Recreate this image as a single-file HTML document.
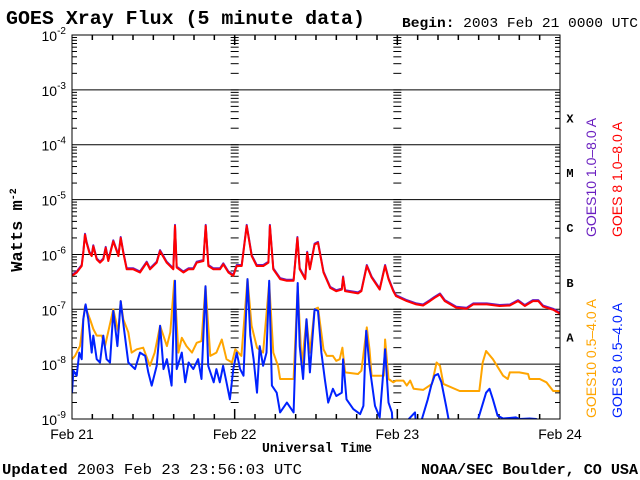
<!DOCTYPE html>
<html><head><meta charset="utf-8"><style>
html,body{margin:0;padding:0;background:#fff;}
svg{display:block;}
.s{font-family:"Liberation Sans",sans-serif;}
.r{font-family:"Liberation Mono",monospace;font-weight:bold;}
.m{font-family:"Liberation Mono",monospace;font-weight:normal;}
</style></head><body>
<svg id="chart" width="640" height="480" viewBox="0 0 640 480" xmlns="http://www.w3.org/2000/svg">
<text class="r" x="6" y="24" font-size="19.8" textLength="359" lengthAdjust="spacingAndGlyphs">GOES Xray Flux (5 minute data)</text>
<text class="r" x="402" y="27" font-size="14" textLength="236" lengthAdjust="spacingAndGlyphs">Begin:  <tspan class="m">2003 Feb 21 0000 UTC</tspan></text>
<text class="r" font-size="17" transform="translate(22,230) rotate(-90)" text-anchor="middle">Watts m<tspan font-size="10" dy="-6">-2</tspan></text>
<text class="r" x="262" y="452" font-size="14" textLength="110" lengthAdjust="spacingAndGlyphs">Universal Time</text>
<text class="r" x="2" y="474" font-size="15" textLength="300" lengthAdjust="spacingAndGlyphs">Updated <tspan class="m">2003 Feb 23 23:56:03 UTC</tspan></text>
<text class="r" x="421" y="474" font-size="15" textLength="217" lengthAdjust="spacingAndGlyphs">NOAA/SEC Boulder, CO USA</text>
<g id="grid"></g>
<g id="ticks"></g>
<g id="labels"></g>
<defs><clipPath id="pc"><rect x="72" y="35" width="488" height="384"/></clipPath></defs>
<g id="series" clip-path="url(#pc)"></g>
<rect x="72" y="35" width="488" height="384" fill="none" stroke="#000" stroke-width="1"/>
<g id="legend">
<text class="s" font-size="14" fill="#6a1fc0" transform="translate(596,237) rotate(-90)">GOES10 1.0–8.0 A</text>
<text class="s" font-size="14" fill="#ff0000" transform="translate(622,237) rotate(-90)">GOES 8 1.0–8.0 A</text>
<text class="s" font-size="14" fill="#ffa500" transform="translate(596,418) rotate(-90)">GOES10 0.5–4.0 A</text>
<text class="s" font-size="14" fill="#0022ff" transform="translate(622,418) rotate(-90)">GOES 8 0.5–4.0 A</text>
</g>
</svg>
<script>
const decades=[-2,-3,-4,-5,-6,-7,-8,-9];
const dayLabels=["Feb 21","Feb 22","Feb 23","Feb 24"];
const flareClasses=["X","M","C","B","A"];
const flareLevels=[-3.5,-4.5,-5.5,-6.5,-7.5];
const redT=[0,0.69,1.43,1.67,1.92,2.16,2.56,2.9,3.15,3.64,4.13,4.62,4.97,5.36,6.1,6.59,6.84,7.18,7.57,8.07,9.05,10.03,11.02,11.51,12.49,12.99,13.97,14.95,15.2,15.45,16.43,17.17,17.9,18.4,19.38,19.72,20.12,20.86,21.84,22.33,23.07,23.8,24.3,25.04,25.77,26.51,27.25,28.23,28.97,29.2,29.7,30.7,31.7,32.7,33.25,33.6,34.4,34.7,35.1,35.8,36.3,37.1,38.1,39.0,39.8,40.0,40.3,42.2,42.7,43.5,44.2,45.4,46.2,46.7,47.4,47.8,49.4,50.8,51.8,52.8,53.5,54.3,55.0,56.7,58.2,59.2,61.2,63.1,64.6,65.8,66.8,68.0,68.8,69.5,71.0,72];
const redV=[-6.39,-6.33,-6.21,-5.97,-5.64,-5.79,-5.97,-6.03,-5.85,-6.09,-6.15,-6.09,-5.88,-6.12,-5.76,-5.94,-6.03,-5.70,-5.97,-6.27,-6.27,-6.33,-6.15,-6.27,-6.15,-5.94,-6.15,-6.27,-5.48,-6.24,-6.33,-6.27,-6.27,-6.15,-6.12,-5.48,-6.21,-6.27,-6.27,-6.18,-6.33,-6.39,-6.21,-6.21,-5.48,-6.03,-6.21,-6.21,-6.15,-5.48,-6.27,-6.45,-6.48,-6.48,-5.70,-6.27,-6.45,-5.97,-6.27,-5.82,-5.79,-6.33,-6.61,-6.67,-6.64,-6.42,-6.67,-6.71,-6.67,-6.21,-6.42,-6.64,-6.21,-6.45,-6.67,-6.76,-6.85,-6.91,-6.93,-6.85,-6.79,-6.73,-6.85,-6.97,-6.99,-6.91,-6.91,-6.94,-6.93,-6.85,-6.94,-6.85,-6.85,-6.95,-7.01,-7.08];
const orangeT=[0,0.44,1.18,1.92,2.66,3.15,3.64,4.38,4.87,6.1,6.84,7.18,7.57,8.31,8.8,9.54,10.5,11.5,12.2,13.0,14.0,14.5,15.1,15.7,16.2,16.9,17.7,18.4,19.1,19.7,20.4,21.3,22.1,22.8,23.6,24.1,25.0,25.9,26.5,27.3,28.2,29.1,29.7,30.4,30.7,32.7,33.3,33.9,34.6,35.1,35.8,36.3,37.1,37.6,38.5,39.0,39.5,39.9,40.3,42.2,42.7,43.5,43.9,44.2,46.0,46.2,46.7,47.4,47.8,48.9,49.4,49.9,50.4,51.8,53.1,53.8,54.3,54.8,57.2,60.1,60.6,61.1,62.1,63.6,64.3,64.6,66.0,67.3,67.5,69.0,70.0,71.0,72];
const orangeV=[-7.91,-7.85,-7.67,-6.94,-7.18,-7.36,-7.48,-7.48,-7.67,-7.0,-7.42,-6.85,-7.18,-7.42,-7.79,-7.73,-7.70,-8.03,-7.79,-7.30,-7.67,-7.42,-6.48,-7.79,-7.52,-7.67,-7.79,-7.61,-7.58,-6.58,-7.85,-7.79,-7.55,-7.91,-7.97,-7.73,-7.85,-6.45,-7.30,-7.70,-7.79,-6.52,-7.79,-8.03,-8.27,-8.27,-6.58,-8.03,-7.18,-7.79,-7.0,-6.97,-7.73,-7.85,-7.85,-7.94,-7.91,-7.70,-8.15,-8.18,-8.12,-7.33,-7.73,-8.21,-8.21,-7.55,-8.27,-8.33,-8.30,-8.30,-8.39,-8.30,-8.45,-8.47,-8.36,-7.97,-8.03,-8.36,-8.49,-8.49,-7.97,-7.76,-7.91,-8.21,-8.27,-8.15,-8.15,-8.18,-8.27,-8.27,-8.33,-8.49,-8.49];
const blueT=[0,0.2,0.69,1.08,1.43,1.67,2.0,2.4,2.9,3.15,3.64,4.13,4.62,5.1,5.6,6.1,6.7,7.18,7.67,8.31,9.3,10.03,10.8,11.26,11.76,12.5,13.0,13.5,14.0,14.7,15.2,15.45,16.2,16.7,17.2,17.9,18.6,19.1,19.7,20.1,20.9,21.3,21.8,22.3,22.8,23.3,23.8,24.3,24.8,25.3,25.9,26.3,26.8,27.3,27.7,28.2,28.7,29.1,29.5,30.2,30.7,31.7,32.7,33.3,33.6,34.1,34.6,35.1,35.8,36.3,36.8,37.3,37.8,38.5,39.0,39.8,40.0,40.5,41.5,42.5,43.0,43.4,43.9,44.7,45.4,46.2,46.7,47.2,47.4,50.6,50.9,52.5,53.0,53.5,54.0,54.5,55.2,56.0,59.2,61.1,61.6,62.1,62.8,63.6,65.5,66.0,67.5,68.5,69.0,72];
const blueV=[-8.52,-8.12,-8.21,-7.79,-7.91,-7.18,-6.91,-7.18,-7.79,-7.48,-7.91,-7.97,-7.48,-7.91,-7.97,-7.03,-7.67,-6.85,-7.36,-7.97,-8.09,-7.79,-7.85,-8.15,-8.39,-8.03,-7.30,-8.09,-7.91,-8.39,-6.48,-8.09,-7.79,-8.33,-7.97,-8.09,-7.91,-8.27,-6.58,-8.03,-8.33,-8.09,-8.33,-8.03,-8.33,-8.64,-8.09,-7.79,-8.09,-8.21,-6.45,-7.48,-7.91,-8.52,-7.67,-8.03,-7.79,-6.48,-8.39,-8.52,-8.88,-8.70,-8.88,-6.52,-7.67,-8.27,-7.18,-8.15,-7.0,-7.03,-7.79,-8.27,-8.70,-8.45,-8.58,-8.52,-7.91,-8.64,-8.82,-8.91,-8.76,-7.39,-8.03,-8.76,-8.97,-7.73,-8.70,-8.88,-9.3,-8.88,-9.3,-8.64,-8.39,-8.21,-8.18,-8.33,-8.76,-9.3,-9.3,-8.52,-8.45,-8.64,-8.94,-8.99,-8.97,-9.0,-8.99,-9.0,-9.05,-9.1];
const NS="http://www.w3.org/2000/svg";
const X0=72,X1=560,Y0=35,DEC=54.86;
function xs(h){return X0+h*(X1-X0)/72;}
function ys(v){return Y0+(-2-v)*DEC;}
function mk(tag,attrs,parent){const e=document.createElementNS(NS,tag);for(const k in attrs)e.setAttribute(k,attrs[k]);parent.appendChild(e);return e;}
const grid=document.getElementById('grid'),ticks=document.getElementById('ticks'),labels=document.getElementById('labels'),series=document.getElementById('series');
decades.forEach((d,i)=>{
  if(i>0&&i<decades.length-1){const l=mk('line',{x1:X0,x2:X1,y1:ys(d),y2:ys(d),stroke:'#000','stroke-width':1},grid);
  
  }
  const t=mk('text',{x:66,y:ys(d)+6,'font-size':14,'text-anchor':'end',class:'s'},labels);
  
  
  t.innerHTML='10<tspan font-size="10" dy="-7">'+d+'</tspan>';
  if(i<decades.length-1){
    for(let m=2;m<=9;m++){
      const y=ys(d-1)-Math.log10(m)*DEC;
      [X0,xs(24),xs(48),X1].forEach((xx,j)=>{
        const x1=j==0?xx:(j==3?xx-5:xx-4), x2=j==0?xx+5:(j==3?xx:xx+4);
        const tk=mk('line',{x1:x1,x2:x2,y1:y,y2:y,stroke:'#000','stroke-width':1},ticks);
        
        
      });
    }
  }
});
[xs(24),xs(48)].forEach(xx=>{[Y0,ys(-3),ys(-4),ys(-5),ys(-6),ys(-7),ys(-8)].forEach(y=>{
  const tk=mk('line',{x1:xx-4,x2:xx+4,y1:y,y2:y,stroke:'#000','stroke-width':1},ticks);
  
  });});
for(let h=3;h<72;h+=3){
  const len=h%24==0?10:5;
  const a=mk('line',{x1:xs(h),x2:xs(h),y1:Y0,y2:Y0+len,stroke:'#000','stroke-width':1.5},ticks);
  
  
  const b=mk('line',{x1:xs(h),x2:xs(h),y1:419-len,y2:419,stroke:'#000','stroke-width':1.5},ticks);
  
  
}
dayLabels.forEach((s,i)=>{
  const t=mk('text',{x:xs(i*24),y:439,'font-size':14,'text-anchor':'middle',class:'s'},labels);
  
  
  t.textContent=s;
});
flareClasses.forEach((c,i)=>{
  const t=mk('text',{x:570,y:ys(flareLevels[i])+5,'font-size':12,'text-anchor':'middle',class:'r'},labels);
  
  
  t.textContent=c;
});
function path(T,V,color,name,dy){
  let d='';T.forEach((t,i)=>{d+=(i?'L':'M')+xs(t).toFixed(1)+','+(ys(V[i])+dy).toFixed(1);});
  const p=mk('path',{d:d,fill:'none',stroke:color,'stroke-width':2,'stroke-linejoin':'round'},series);
  
  
}
path(orangeT,orangeV,'#ffa500','goes10-short-line',0);
path(blueT,blueV,'#0022ff','goes8-short-line',0);
path(redT,redV,'#6a1fc0','goes10-long-line',-1);
path(redT,redV,'#ff0000','goes8-long-line',0);
</script>
</body></html>
